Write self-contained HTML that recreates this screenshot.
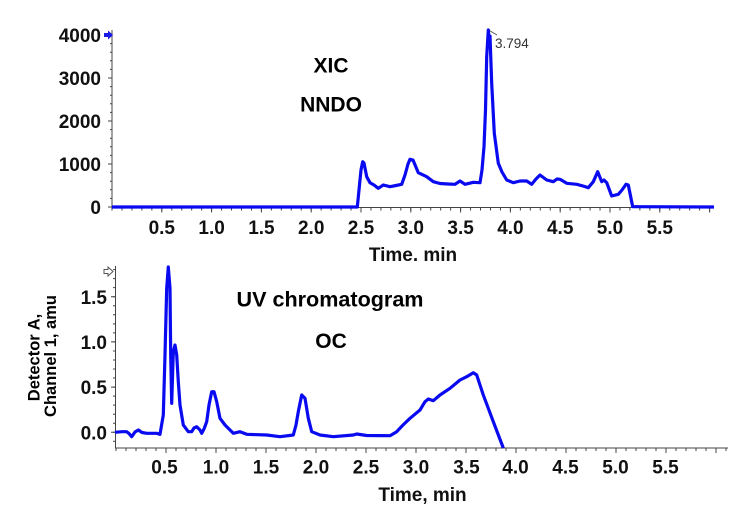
<!DOCTYPE html>
<html>
<head>
<meta charset="utf-8">
<style>
html,body{margin:0;padding:0;background:#fff;}
svg{display:block;}
text{font-family:"Liberation Sans",Arial,sans-serif;}
.t{font-weight:bold;font-size:19px;fill:#111;}
.ttl{font-weight:bold;font-size:21px;fill:#000;}
</style>
</head>
<body>
<svg width="750" height="509" viewBox="0 0 750 509" xmlns="http://www.w3.org/2000/svg">
<rect width="750" height="509" fill="#fff"/>

<!-- TOP CHART axes -->
<g stroke="#444" fill="none">
  <line x1="112" y1="30" x2="112" y2="207.5" stroke-width="1"/>
  <line x1="112" y1="207.5" x2="714" y2="207.5" stroke-width="1"/>
  <line x1="111.5" y1="209" x2="714" y2="209" stroke-width="3" stroke-dasharray="1 8.96"/>
  <line x1="161.3" y1="210" x2="714" y2="210" stroke-width="5" stroke-dasharray="1 48.8"/>
  <line x1="111" y1="207.5" x2="111" y2="30" stroke-width="2" stroke-dasharray="1 7.6"/>
  <line x1="110" y1="207.5" x2="110" y2="30" stroke-width="4" stroke-dasharray="1 42"/>
</g>
<g class="t" text-anchor="end">
  <text x="101" y="42">4000</text>
  <text x="101" y="85">3000</text>
  <text x="101" y="128">2000</text>
  <text x="101" y="171">1000</text>
  <text x="101" y="214">0</text>
</g>
<polygon points="104,33 108,33 108,30.5 113,35 108,39.5 108,37 104,37" fill="#1a1ae6"/>
<g class="t" text-anchor="middle">
  <text x="161.8" y="234">0.5</text>
  <text x="211.6" y="234">1.0</text>
  <text x="261.4" y="234">1.5</text>
  <text x="311.2" y="234">2.0</text>
  <text x="361" y="234">2.5</text>
  <text x="410.8" y="234">3.0</text>
  <text x="460.6" y="234">3.5</text>
  <text x="510.4" y="234">4.0</text>
  <text x="560.2" y="234">4.5</text>
  <text x="610" y="234">5.0</text>
  <text x="659.8" y="234">5.5</text>
</g>
<text class="t" x="413" y="261" text-anchor="middle">Time. min</text>
<text class="ttl" x="331" y="72.5" text-anchor="middle">XIC</text>
<text class="ttl" x="331" y="111.5" text-anchor="middle">NNDO</text>
<line x1="488.5" y1="30" x2="497" y2="35" stroke="#555" stroke-width="1"/>
<text x="495" y="48" font-size="13.5" fill="#333">3.794</text>

<polyline fill="none" stroke="#0a0af0" stroke-width="3.2" stroke-linejoin="round" points="112,207 357.3,207 359,190 361,170 362.7,161.7 364,163 366.7,176.7 370,182.7 374,185 378.3,188.3 383.3,185 390,186.7 396,185.5 401.7,184.3 405,175 408,164 410,159.3 413,160 418.3,172.7 426.7,176.7 433.3,181.7 440,183.5 448,184 455,184.3 460,181 465,184.3 473.3,182.3 480,182.7 482,170 484,146.7 485.5,110 486.7,56.7 488.3,30 489.3,42 490,36 491.7,83.3 494.3,133.3 498.3,163.3 502,172 506.7,180 513.3,182.7 520,181 526.7,181 531.7,184.3 536,179 540,175 546.7,180 553.3,181.7 557,179 560,179.3 566.7,183.3 576.7,184.3 583,186 588.3,187.7 593.3,181.7 597.7,171.7 601.7,181.7 604,180 606.7,182.7 611.7,196 618.3,194.3 622,190 626,184.3 628.3,185 632.7,206.7 714,207"/>

<!-- BOTTOM CHART axes -->
<g stroke="#444" fill="none">
  <line x1="115.5" y1="266" x2="115.5" y2="448" stroke-width="1"/>
  <line x1="115" y1="448" x2="728" y2="448" stroke-width="1"/>
  <line x1="115.5" y1="449.5" x2="728" y2="449.5" stroke-width="3" stroke-dasharray="1 9"/>
  <line x1="165.5" y1="450.5" x2="728" y2="450.5" stroke-width="5" stroke-dasharray="1 49"/>
  <line x1="114" y1="432.8" x2="114" y2="266" stroke-width="2" stroke-dasharray="1 8.04"/>
  <line x1="113" y1="432.8" x2="113" y2="266" stroke-width="4" stroke-dasharray="1 44.2"/>
  <line x1="114" y1="441.8" x2="114" y2="440.8" stroke-width="2"/>
</g>
<g class="t" text-anchor="end">
  <text x="107" y="304">1.5</text>
  <text x="107" y="349">1.0</text>
  <text x="107" y="394">0.5</text>
  <text x="107" y="439.5">0.0</text>
</g>
<polygon points="104,269.5 108,269.5 108,267 113,271.5 108,276 108,273.5 104,273.5" fill="#fff" stroke="#555" stroke-width="1"/>
<g class="t" text-anchor="middle">
  <text x="164.5" y="473.5">0.5</text>
  <text x="216" y="473.5">1.0</text>
  <text x="266" y="473.5">1.5</text>
  <text x="316" y="473.5">2.0</text>
  <text x="366" y="473.5">2.5</text>
  <text x="416" y="473.5">3.0</text>
  <text x="466.5" y="473.5">3.5</text>
  <text x="515.5" y="473.5">4.0</text>
  <text x="565.5" y="473.5">4.5</text>
  <text x="615.5" y="473.5">5.0</text>
  <text x="665.5" y="473.5">5.5</text>
</g>
<text class="t" x="422.5" y="501" text-anchor="middle">Time, min</text>
<text class="ttl" x="236.5" y="306.5" textLength="187" lengthAdjust="spacingAndGlyphs">UV chromatogram</text>
<text class="ttl" x="331" y="348" text-anchor="middle">OC</text>
<g font-weight="bold" font-size="16.5" fill="#000" text-anchor="middle">
  <text transform="translate(39.5,357.5) rotate(-90)">Detector A,</text>
  <text transform="translate(56,356) rotate(-90)">Channel 1, amu</text>
</g>

<polyline fill="none" stroke="#0a0af0" stroke-width="3.2" stroke-linejoin="round" points="115,432.3 122,431.7 126.7,431.7 129,433.5 131.7,436.7 135,432 138.3,430 142,432.5 146.7,433.3 156.7,433.3 160,434.3 163.3,415 165,355 166.7,288.3 168.3,267 170,288.3 170.7,355 171.7,403.3 173.3,351.7 175,345 176.7,355 178.3,381.7 180,405 183.3,425 188.3,431.7 191.7,431.7 194,428 196.7,426.7 200,430 201.7,433.3 204,429 206.7,421.7 209,405 211.7,391.7 214,391.7 216.7,401.7 220,418.3 225,425 229,429 233.3,433.3 240,431.7 246.7,434.3 266.7,435 280,436.7 293.3,435 296,425 298.3,411.7 301.7,395 305,398.3 308.3,418.3 311.7,431.7 320,435 333.3,436.7 353.3,435 356.7,434 366.7,435.5 390,435.7 396.7,431.7 403,425 410,418.3 420,410 425,401.7 428.3,399 433.3,400.7 440,395 450,388.3 460,380 466.7,376.7 473.3,372.7 476.7,375 483.3,395 493.3,421.7 503.3,448"/>
</svg>
</body>
</html>
